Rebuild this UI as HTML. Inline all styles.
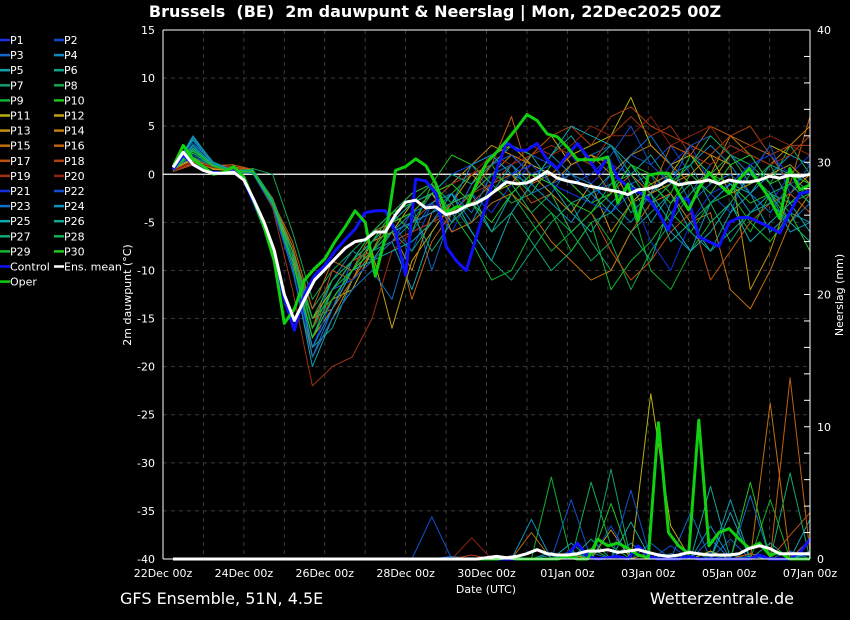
<!DOCTYPE html>
<html><head><meta charset="utf-8"><style>
html,body{margin:0;padding:0;background:#000;}
svg{display:block;font-family:"DejaVu Sans","Liberation Sans",sans-serif;}
</style></head><body>
<svg id="c" width="850" height="620" viewBox="0 0 850 620">
<rect width="850" height="620" fill="#000"/>
<text x="435" y="17" fill="#fff" font-size="16" font-weight="bold" text-anchor="middle" xml:space="preserve">Brussels  (BE)  2m dauwpunt &amp; Neerslag | Mon, 22Dec2025 00Z</text>
<g id="grid"></g>
<g id="prec"></g>
<g id="temp"></g>
<g id="axes"></g>
<g id="legend"></g>
<text x="131" y="295" fill="#fff" font-size="11" text-anchor="middle" transform="rotate(-90 131 295)">2m dauwpunt (°C)</text>
<text x="843" y="295" fill="#fff" font-size="11" text-anchor="middle" transform="rotate(-90 843 295)">Neerslag (mm)</text>
<text x="486" y="593" fill="#fff" font-size="11" text-anchor="middle">Date (UTC)</text>
<text x="120" y="604" fill="#fff" font-size="16">GFS Ensemble, 51N, 4.5E</text>
<text x="794" y="604" fill="#fff" font-size="16" text-anchor="end">Wetterzentrale.de</text>
</svg>
<script>
const dateLabels=["22Dec 00z","24Dec 00z","26Dec 00z","28Dec 00z","30Dec 00z","01Jan 00z","03Jan 00z","05Jan 00z","07Jan 00z"];
const tempTicks=[15,10,5,0,-5,-10,-15,-20,-25,-30,-35,-40];
const precTicks=[0,10,20,30,40];
const ensMean=[0.7,2.3,1.0,0.4,0.1,0.1,0.2,-0.6,-2.7,-5,-7.9,-12.5,-15.2,-13,-11,-9.9,-8.8,-7.7,-7,-6.8,-6,-6,-4.2,-2.9,-2.7,-3.5,-3.4,-4.2,-3.9,-3.3,-3,-2.4,-1.6,-0.8,-1.0,-0.9,-0.4,0.3,-0.4,-0.7,-0.9,-1.2,-1.4,-1.6,-1.8,-2.1,-1.6,-1.5,-1.2,-0.6,-1.1,-0.9,-0.8,-0.6,-1.0,-0.6,-0.8,-0.8,-0.6,-0.2,-0.4,-0.1,-0.2,0];
const control=[0.5,2.0,1.0,0.5,0.2,0.1,0.3,-0.6,-3,-5.5,-8.5,-13,-16.2,-12.5,-10.5,-9.5,-8,-6.8,-5.7,-4,-3.8,-3.8,-6,-10.5,-0.5,-0.7,-2,-7.5,-9,-10,-6.5,-3,0.5,3.3,2.5,2.5,3.2,1.5,0.6,2,3.2,1.8,0.1,1.8,-0.4,-1.3,-1.8,-2.5,-4,-5.8,-2.3,-2.7,-6.5,-7,-7.5,-5,-4.5,-4.5,-5,-5.5,-6.1,-4,-2,-1.8];
const oper=[0.8,3.0,1.5,0.8,0.0,0.2,0.8,-0.3,-2.8,-5.5,-9,-15.5,-14,-11,-9.8,-8.8,-7,-5.5,-3.8,-5,-10.6,-6.5,0.4,0.8,1.6,0.9,-1,-4,-3.4,-3.4,-1,1.2,2.3,3.5,4.8,6.2,5.6,4.2,3.9,2.8,1.5,1.5,1.5,1.8,-3,-1,-4.8,-0.1,0.1,0.1,-2,-3.7,-1.5,0.2,-1,-2,-0.5,0.6,-1,-2.5,-4.6,0.6,-1.6,-1.1];
const precMean=[0,0,0,0,0,0,0,0,0,0,0,0,0,0,0,0,0,0,0,0,0,0,0,0,0,0,0,0,0,0,0,0.1,0.2,0.1,0.2,0.4,0.7,0.4,0.3,0.3,0.4,0.6,0.6,0.7,0.5,0.6,0.7,0.5,0.3,0.2,0.3,0.5,0.4,0.3,0.3,0.3,0.4,0.8,1.0,0.8,0.4,0.4,0.4,0.4];
const precControl=[0,0,0,0,0,0,0,0,0,0,0,0,0,0,0,0,0,0,0,0,0,0,0,0,0,0,0,0,0,0,0,0,0,0,0,0,0,0,0,0.3,1.2,0.2,0,0.1,0.2,0,1.0,0.2,0,0,0,0.2,0,0,0,0,0,0,0.3,0,0,0,0.5,1.5];
const precOper=[0,0,0,0,0,0,0,0,0,0,0,0,0,0,0,0,0,0,0,0,0,0,0,0,0,0,0,0,0,0,0,0,0,0.1,0,0,0,0,0,0.2,0,0,1.5,1.0,1.2,0.8,0.3,0.1,10.3,2.0,1.0,0.4,10.5,1.0,2.0,2.3,1.5,0.8,1.2,0.3,0.5,0,0,0];
const memberNames=["P1","P2","P3","P4","P5","P6","P7","P8","P9","P10","P11","P12","P13","P14","P15","P16","P17","P18","P19","P20","P21","P22","P23","P24","P25","P26","P27","P28","P29","P30"];
const memberTemp=[
[0.4,2.2,0.9,0.2,0.1,-3.5,-10,-18,-13,-10,-8,-6,-4,-3,-6,-2,-4,-1,1,0,2,-1,1,0,-2,1,3,-1,2,1,-3,0,2],
[0.3,2.0,0.7,0.3,0.2,-3,-9,-17,-12,-11,-7,-5,-8,-3,-1,1,-2,0,2,1,-1,-3,0,2,1,3,0,-2,-4,1,2,-1,0],
[0.5,3.5,1.0,0.4,0.1,-2.5,-8,-19,-14,-9,-6,-4,-3,-10,-4,-2,1,2,0,-2,1,2,3,-1,0,-4,-2,1,3,2,-1,-5,-3],
[0.4,4.0,1.2,0.3,0.2,-3,-9,-16,-11,-8,-9,-7,-5,-4,-2,-5,-1,1,3,2,0,-1,-3,-5,-2,0,1,3,1,-2,0,2,1],
[0.5,3.0,0.8,0.3,0.3,-3.2,-9.5,-20,-15,-12,-8,-7,-12,-6,-3,-2,-6,-2,0,-1,-4,-6,-3,-1,-5,-2,-6,-8,-4,-2,-6,-4,-5],
[0.4,2.5,0.9,0.2,0.1,-2.8,-8.5,-18,-16,-11,-9,-6,-5,-2,-4,-3,-2,1,-1,2,4,1,3,0,2,-1,1,-3,-1,-2,1,0,-2],
[0.3,1.8,0.7,0.3,0.5,-2.5,-8,-14,-11,-9,-7,-6,-8,-5,-3,-6,-9,-11,-8,-5,-3,-7,-10,-6,-4,-2,-5,-3,-7,-4,-2,-3,-1],
[0.4,2.2,0.8,0.2,0.6,0.0,-6,-13,-10,-8,-6,-4,-3,-2,0,1,-1,-3,-2,-4,-6,-9,-7,-12,-8,-5,-2,0,2,1,-1,3,0],
[0.5,2.4,1.0,0.3,0.1,-3,-9,-17,-12,-9,-6,-5,-4,-3,-2,0,1,-2,-5,-8,-6,-4,-7,-3,-10,-12,-8,-5,-3,-6,-2,-4,-8],
[0.4,2.6,0.9,0.4,0.2,-3.3,-9,-15,-13,-10,-7,-4,-6,-1,2,1,-1,0,-2,1,-1,-3,-2,1,0,-2,2,0,-1,-3,-2,-5,-2],
[0.6,1.5,0.6,0.5,0.2,-3,-8,-15,-12,-9,-8,-6,-3,-2,-5,-1,2,3,1,0,2,3,4,8,3,1,2,-1,2,0,3,2,4],
[0.5,1.7,0.5,0.4,0.3,-3.2,-8,-16,-13,-12,-8,-16,-9,-6,-3,0,-2,-1,2,4,1,2,1,-3,-1,0,3,2,-2,-1,0,1,-1],
[0.4,1.2,0.6,0.3,0.2,-3,-9,-17,-14,-10,-7,-5,-4,-2,-1,1,3,2,0,-2,-4,-1,-6,-3,-2,-1,0,2,1,-12,-8,-2,0],
[0.3,1.0,0.8,0.6,0.3,-2.5,-8,-19,-15,-11,-7,-6,-10,-4,-3,-2,0,2,1,-1,1,2,0,2,3,1,-1,0,4,2,1,3,5],
[0.5,1.3,0.7,0.8,0.4,-2.8,-7.5,-15,-14,-11,-8,-4,-2,-1,-6,-5,-3,-2,-4,-7,-9,-11,-10,-6,-3,-2,-5,-4,-12,-14,-10,-5,-2],
[0.4,1.1,0.9,1.0,0.5,-2.8,-7,-14,-9,-10,-6,-5,-13,-7,-4,-2,1,6,-1,0,2,1,-2,0,-2,3,2,5,4,3,2,-1,6],
[0.3,1.0,0.8,1.0,0.4,-2.5,-8,-16,-10,-11,-9,-7,-6,-5,-4,-3,-1,0,-3,-2,-6,-4,-8,-11,-9,-6,-4,-11,-8,-5,-3,-2,-4],
[0.4,1.4,0.9,0.7,0.3,-3,-9,-17,-12,-9,-8,-6,-5,-3,-1,0,1,3,2,4,5,3,6,7,5,4,3,2,4,5,2,3,3],
[0.3,1.2,0.8,0.6,0.2,-3.5,-12,-22,-20,-19,-15,-8,-6,-5,-3,-2,-1,1,2,3,2,1,4,6,4,5,2,1,3,2,1,2,4],
[0.4,1.3,0.7,0.5,0.3,-3,-9,-16,-13,-10,-7,-5,-4,-2,-1,0,2,1,3,2,3,5,4,4,6,3,4,5,2,3,4,3,2],
[0.5,2.6,1.1,0.4,0.2,-3.2,-10,-18,-13,-10,-7,-5,-3,-2,0,1,2,0,1,-1,-2,-3,-4,-2,-7,-10,-5,-2,-1,1,2,0,-1],
[0.4,2.8,1.0,0.3,0.2,-3,-9,-17,-12,-11,-9,-7,-4,-3,-5,-1,1,2,0,1,-1,0,2,5,1,-1,3,4,2,0,3,-2,1],
[0.5,3.2,1.2,0.3,0.1,-3.3,-10,-19,-15,-12,-10,-13,-6,-3,-2,-4,0,1,-2,-1,0,-2,-1,2,4,1,-3,-1,0,-2,-4,-1,-3],
[0.4,3.6,1.1,0.4,0.3,-2.8,-9,-18,-14,-10,-8,-6,-5,-4,-3,1,2,0,-1,-3,-5,-2,-4,-1,-3,-6,-8,-3,-1,-4,-2,-6,-5],
[0.5,3.8,1.3,0.4,0.2,-3,-9,-17,-13,-10,-9,-8,-7,-5,-2,-6,-9,-4,-1,2,5,4,3,1,-2,-5,-8,-6,-3,-7,-5,-3,-6],
[0.4,3.0,1.0,0.3,0.4,-2.7,-8,-16,-12,-9,-7,-5,-3,-2,0,-1,1,3,2,-1,-3,-2,0,-4,-2,-7,-5,-8,-6,-4,-3,-5,-7],
[0.5,2.5,0.9,0.3,0.3,-3,-9,-17,-12,-10,-8,-6,-4,-8,-5,-3,-6,-4,-7,-10,-8,-5,-4,-6,-9,-3,-1,-5,-3,0,-2,-1,-3],
[0.4,2.2,0.8,0.4,0.5,-2.6,-8,-15,-11,-9,-6,-4,-2,-1,-3,-2,0,-1,-4,-2,-6,-4,-1,0,-3,-1,1,4,2,-1,1,-3,-2],
[0.5,2.4,1.0,0.3,0.2,-3.1,-9,-16,-12,-10,-7,-4,-3,-1,-4,-7,-11,-10,-6,-4,-8,-5,-12,-9,-7,-4,-6,-3,-2,-5,-7,-4,-8],
[0.4,2.7,0.9,0.2,0.3,-3,-9,-17,-13,-10,-8,-5,-4,-2,-1,-3,-5,-2,0,-1,-3,-4,-2,1,-1,-3,0,-2,1,2,-1,0,-1]
];
const memberPrec=[
[0,0,0,0,0,0,0,0,0,0,0,0,0,0,0,0,0,0,0,0,0,0,0,0,0,0,0,0,0,0,0,0,0],
[0,0,0,0,0,0,0,0,0,0,0,0,0,0,0,0,0,0.2,0,0,0,0,2.5,0,0,1,0,0.5,0,0,0,0,0.3],
[0,0,0,0,0,0,0,0,0,0,0,0,0,0,0.2,0,0,0,0,0.3,0,0.5,0,0,1.2,0,3.5,0,1.5,0,0,0.6,0],
[0,0,0,0,0,0,0,0,0,0,0,0,0,0,0,0,0,0,0,0,0.6,0,0,1.2,0,0.4,0,2.5,0,0.2,0,0,0],
[0,0,0,0,0,0,0,0,0,0,0,0,0,0,0,0,0,0,0,0,0,0,0,0,0,0,0,0,4.5,0,1.2,0,3.0],
[0,0,0,0,0,0,0,0,0,0,0,0,0,0,0,0,0,0,0,0.5,0,0,0,0,0,0,0,0,0,0,0,0,0.6],
[0,0,0,0,0,0,0,0,0,0,0,0,0,0,0,0,0,0,0,0,0.5,0,6.8,0,0.5,0,0.6,0,0.3,0,0,0,0],
[0,0,0,0,0,0,0,0,0,0,0,0,0,0,0,0,0,0,0,0,0,0,0,0,0,0,0,0,0,0,0,0,0],
[0,0,0,0,0,0,0,0,0,0,0,0,0,0,0,0,0,0,0,6.2,0,0.8,0,0,0,0,0,0.6,0,0,4.5,0,0],
[0,0,0,0,0,0,0,0,0,0,0,0,0,0,0,0,0,0,0,0,0,0,0,0,0,0,0,0,0,0,0,0,0],
[0,0,0,0,0,0,0,0,0,0,0,0,0,0,0,0,0,0,0,0,0,0,0,0,12.5,2.5,0,0.6,0,0.4,0,0,0],
[0,0,0,0,0,0,0,0,0,0,0,0,0,0,0,0,0,0,0,0,0.3,0,2.2,0,0,0,0,0,0,0,0,0,0],
[0,0,0,0,0,0,0,0,0,0,0,0,0,0,0,0,0,0,0,0,0,0,0,0,0,0,0,0,0,0,0,0,0],
[0,0,0,0,0,0,0,0,0,0,0,0,0,0,0,0,0,0,0,0,0,0,0,0,0,0,0,0,0,0,0,0,0],
[0,0,0,0,0,0,0,0,0,0,0,0,0,0,0,0,0,0,2,0,0,0,0,0,0.5,0,0,0,0,0,11.8,0,1.5],
[0,0,0,0,0,0,0,0,0,0,0,0,0,0,0,0,0,0,0,0,0,0,0,0,0,0,0,0,0,0.4,0,13.7,0.5],
[0,0,0,0,0,0,0,0,0,0,0,0,0,0,0,0,0,0,0,0,0,0,0,0,0,0,0,0,0,0,0,1.8,3.5],
[0,0,0,0,0,0,0,0,0,0,0,0,0,0,0,0.3,0,0,0,0,0,0,0,0,0,0,0,0,0,0,0,0,0],
[0,0,0,0,0,0,0,0,0,0,0,0,0,0,0,0,0,0,0,0,0,0,0,0,0,0,0,0,0,0,0,0,0],
[0,0,0,0,0,0,0,0,0,0,0,0,0,0,0,1.6,0,0,0,0,0,0,0,0,0,0,0,0,0,0,0,0,0],
[0,0,0,0,0,0,0,0,0,0,0,0,0,0,0,0,0,0,0,0,0,0,0,0,0,0,0,0,0,0,0,0,0],
[0,0,0,0,0,0,0,0,0,0,0,0,0,3.2,0,0,0,0,0,0,4.5,0,0,5.2,0,0,0,0,0,0,0,0,0],
[0,0,0,0,0,0,0,0,0,0,0,0,0,0,0,0,0,0,0,0,0,0,0,0,0,0,0,1.5,0,4.8,0,0,0],
[0,0,0,0,0,0,0,0,0,0,0,0,0,0,0,0,0,0,3.0,0,0,0,0,0,0,0,0,0,0,0,0,0,0],
[0,0,0,0,0,0,0,0,0,0,0,0,0,0,0,0,0,0,0,0,1.2,0,0,2.8,0,0,0,0,3.5,0,0,0,0.5],
[0,0,0,0,0,0,0,0,0,0,0,0,0,0,0,0,0,0,0,0,0,1.5,0,0,0,0,0,5.5,0,0,0,0,0],
[0,0,0,0,0,0,0,0,0,0,0,0,0,0,0,0,0,0,0,0,0,0,0,0,0,0,0,0,0,0,0,6.5,0],
[0,0,0,0,0,0,0,0,0,0,0,0,0,0,0,0,0,0,0,0,0,5.8,1.0,0,0,0,0,0,0,0,0,0,0],
[0,0,0,0,0,0,0,0,0,0,0,0,0,0,0,0,0,0,0,0,0,0,0,0,0,0,0,0,0,0,0,0,0],
[0,0,0,0,0,0,0,0,0,0,0,0,0,0,0,0,0,0,0,0,0,0,4.2,0,0,0,0,0,0,5.8,0,0,0]
];
const memberColors=["#1a30e0","#1048d0","#1068c8","#1088c0","#10a0b0","#10a090","#10a070","#10a850","#10b030","#20c020","#b8b010","#c0a010","#c09010","#c08010","#c07010","#c06010","#c05010","#b04010","#a03010","#902010","#1030e0","#1050d0","#1070c8","#1090c0","#10a8b0","#10a890","#10a870","#10b050","#10b830","#20c820"];

const NS="http://www.w3.org/2000/svg";
const L=163,R=810,T=30,B=559,DAYS=16,START=0.25;
const xs=d=>L+(R-L)*d/DAYS;
const yT=v=>T+(15-v)*(B-T)/55;
const yP=v=>B-v*(B-T)/40;
function mk(tag,attrs,parent){const e=document.createElementNS(NS,tag);for(const k in attrs)e.setAttribute(k,attrs[k]);parent.appendChild(e);return e;}
const grid=document.getElementById('grid'),axes=document.getElementById('axes'),tg=document.getElementById('temp'),pg=document.getElementById('prec'),lg=document.getElementById('legend');

for(let d=1;d<DAYS;d++){const l=mk('line',{x1:xs(d),x2:xs(d),y1:T,y2:B,stroke:'#3a3a3a','stroke-dasharray':'4,4'},grid);

}
tempTicks.forEach(v=>{if(v===15||v===-40||v===0)return;const l=mk('line',{x1:L,x2:R,y1:yT(v),y2:yT(v),stroke:'#3a3a3a','stroke-dasharray':'4,4'},grid);

});
const zl=mk('line',{x1:L,x2:R,y1:yT(0),y2:yT(0),stroke:'#fff','stroke-width':1.2},grid);



function path(vals,yf){const n=vals.length;return vals.map((v,i)=>(i?'L':'M')+xs(START+i*(DAYS-START)/(n-1)).toFixed(1)+','+yf(v).toFixed(1)).join('');}
function draw(g,vals,yf,color,w,name){const p=mk('path',{d:path(vals,yf),fill:'none',stroke:color,'stroke-width':w,'stroke-linejoin':'round'},g);

}

memberPrec.forEach((a,i)=>draw(pg,a,yP,memberColors[i],1,'precip-'+memberNames[i].toLowerCase()));
draw(pg,precControl,yP,'#1010ff',3,'precip-control');
draw(pg,precOper,yP,'#10d010',3,'precip-oper');
draw(pg,precMean,yP,'#ffffff',3,'precip-ens-mean');
memberTemp.forEach((a,i)=>draw(tg,a,yT,memberColors[i],1,'dewpoint-'+memberNames[i].toLowerCase()));
draw(tg,control,yT,'#1010ff',3,'dewpoint-control');
draw(tg,oper,yT,'#10d010',3,'dewpoint-oper');
draw(tg,ensMean,yT,'#ffffff',3,'dewpoint-ens-mean');

[[L,T,L,B],[L,T,R,T],[R,T,R,B],[L,B,R,B]].forEach(c=>{const l=mk('line',{x1:c[0],y1:c[1],x2:c[2],y2:c[3],stroke:'#fff','stroke-width':1},axes);

});
tempTicks.forEach(v=>{const t=mk('text',{x:155,y:yT(v)+4,fill:'#fff','font-size':11,'text-anchor':'end'},axes);t.textContent=v;

});
precTicks.forEach(v=>{const t=mk('text',{x:817,y:yP(v)+4,fill:'#fff','font-size':11},axes);t.textContent=v;

});
for(let m=2;m<40;m+=2){const l=mk('line',{x1:R-6,x2:R,y1:yP(m),y2:yP(m),stroke:'#fff'},axes);

}
dateLabels.forEach((s,i)=>{const t=mk('text',{x:xs(i*2),y:577,fill:'#fff','font-size':11,'text-anchor':'middle'},axes);t.textContent=s;

});

const legItems=memberNames.map((n,i)=>[n,memberColors[i]]).concat([["Control","#1010ff"],["Ens. mean","#ffffff"],["Oper","#10d010"]]);
legItems.forEach((it,i)=>{const col=i%2,row=Math.floor(i/2);const x=col?54:0,y=39+row*15.1;
const g=mk('g',{},lg);


mk('line',{x1:x,x2:x+10,y1:y+1,y2:y+1,stroke:it[1],'stroke-width':2.5},g);
const t=mk('text',{x:x+10,y:y+5,fill:'#fff','font-size':11},g);t.textContent=it[0];});
</script>
</body></html>
